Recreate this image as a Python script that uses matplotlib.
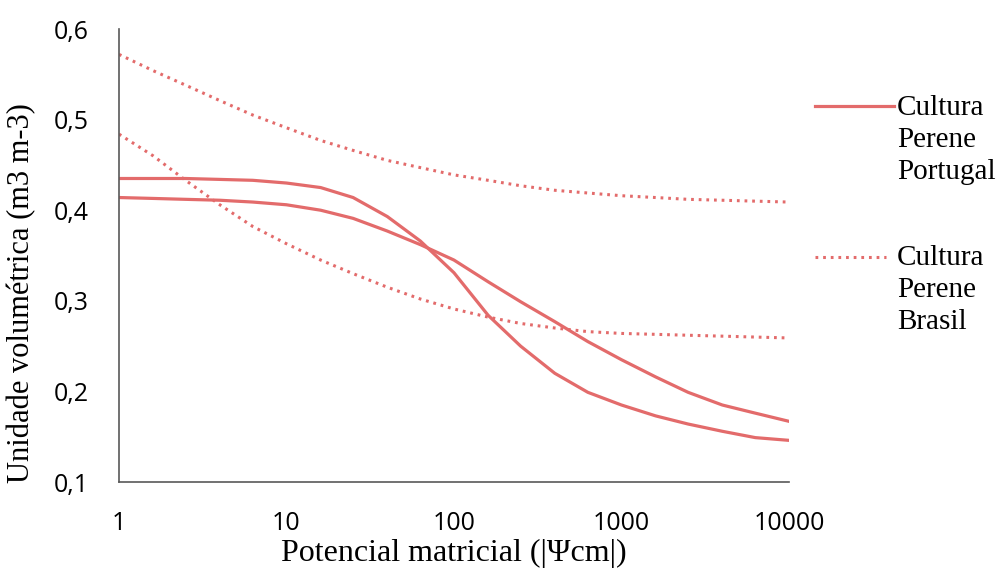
import matplotlib.pyplot as plt
from matplotlib.lines import Line2D

# pontos
psi = [1, 1.6, 2.5, 4, 6.3, 10, 16, 25, 40, 63, 100, 160, 250, 400, 630,
       1000, 1600, 2500, 4000, 6300, 10000]
portugal_a = [0.435, 0.435, 0.435, 0.434, 0.433, 0.430, 0.425, 0.414, 0.393, 0.366, 0.331,
              0.284, 0.250, 0.220, 0.199, 0.185, 0.173, 0.164, 0.156, 0.149, 0.146]
portugal_b = [0.414, 0.413, 0.412, 0.411, 0.409, 0.406, 0.400, 0.391, 0.377, 0.362, 0.345,
              0.321, 0.299, 0.277, 0.255, 0.235, 0.216, 0.199, 0.185, 0.176, 0.167]
brasil_a = [0.572, 0.554, 0.538, 0.521, 0.505, 0.491, 0.477, 0.466, 0.455, 0.447, 0.439,
            0.433, 0.427, 0.422, 0.419, 0.416, 0.414, 0.412, 0.411, 0.410, 0.409]
brasil_b = [0.484, 0.460, 0.433, 0.406, 0.382, 0.363, 0.345, 0.330, 0.315, 0.302, 0.291,
            0.282, 0.275, 0.270, 0.266, 0.264, 0.263, 0.262, 0.261, 0.260, 0.259]

yticks = [0.1, 0.2, 0.3, 0.4, 0.5, 0.6]
xticks = [1, 10, 100, 1000, 10000]

cor = '#E36B6B'
serif = 'Liberation Serif'
sans = 'Open Sans'
pontos = (0, (0.9, 1.6))

fig = plt.figure(figsize=(10.03, 5.72), dpi=100)
ax = fig.add_axes([0.1186, 0.1573, 0.668, 0.792])

ax.plot(psi, portugal_a, color=cor, lw=2.3)
ax.plot(psi, portugal_b, color=cor, lw=2.3)
ax.plot(psi, brasil_a, color=cor, lw=2.2, linestyle=pontos)
ax.plot(psi, brasil_b, color=cor, lw=2.2, linestyle=pontos)

ax.set_xscale('log')
ax.set_xlim(1, 10000)
ax.set_ylim(0.1, 0.6)
ax.set_xticks(xticks)
ax.set_xticklabels([str(v) for v in xticks], fontfamily=sans, fontsize=18)
ax.set_yticks(yticks)
ax.set_yticklabels([('%.1f' % v).replace('.', ',') for v in yticks], fontfamily=sans, fontsize=18)
ax.minorticks_off()
ax.tick_params(axis='x', length=0, pad=21)
ax.tick_params(axis='y', length=0, pad=22)

for s in ['top', 'right']:
    ax.spines[s].set_visible(False)
for s in ['left', 'bottom']:
    ax.spines[s].set_color('#595959')
    ax.spines[s].set_linewidth(1.2)

ax.set_xlabel('Potencial matricial (|\u03a8cm|)', fontfamily=serif, fontsize=23)
ax.set_ylabel('Unidade volumétrica (m3 m-3)', fontfamily=serif, fontsize=22)
ax.xaxis.set_label_coords(0.5, -0.125)
ax.yaxis.set_label_coords(-0.124, 0.417)

# legenda
fig.add_artist(Line2D([815 / 1003, 894 / 1003], [1 - 106 / 572] * 2, color=cor, lw=2.3,
                      transform=fig.transFigure))
fig.text(897 / 1003, 1 - 95 / 572, 'Cultura\nPerene\nPortugal', fontfamily=serif, fontsize=21,
         va='top', ha='left', linespacing=1.3)
fig.add_artist(Line2D([815 / 1003, 886 / 1003], [1 - 257 / 572] * 2, color=cor, lw=2.2,
                      linestyle=pontos, transform=fig.transFigure))
fig.text(897 / 1003, 1 - 245 / 572, 'Cultura\nPerene\nBrasil', fontfamily=serif, fontsize=21,
         va='top', ha='left', linespacing=1.3)

fig.savefig('out.png', dpi=100)
